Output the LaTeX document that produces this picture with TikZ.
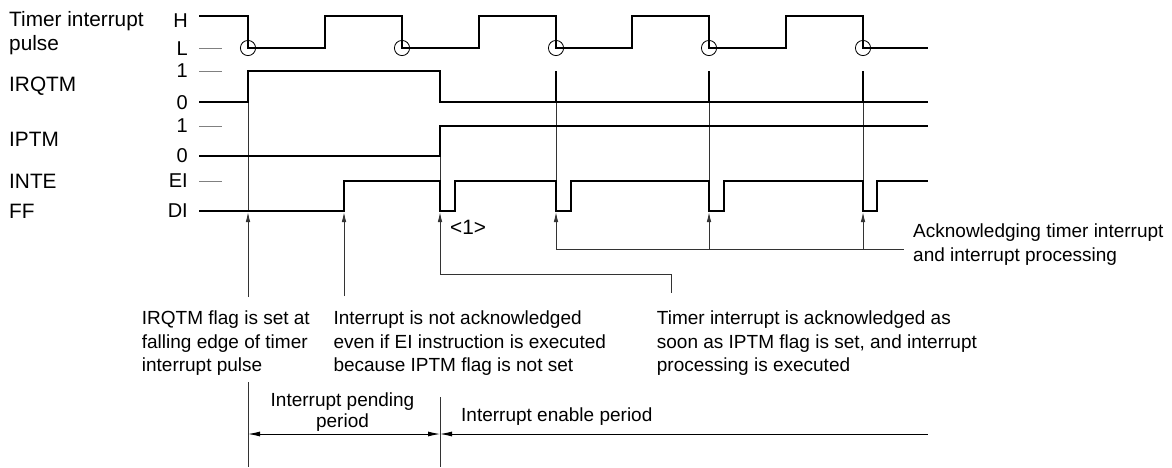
\documentclass[tikz,border=0pt]{standalone}
\usepackage{fontspec}
\setmainfont{Liberation Sans}
\usetikzlibrary{arrows.meta}
\newcommand{\dgfont}{\fontsize{19}{23.7}\selectfont}
\newcommand{\dgfontb}{\fontsize{19}{20.7}\selectfont}
\newcommand{\dgfontn}{\fontsize{20.8}{24}\selectfont}
\newcommand{\dgfontl}{\fontsize{20}{24}\selectfont}
\newcommand{\mlines}[1]{\begin{tabular}[t]{@{}l@{}}#1\end{tabular}}
\newcommand{\clines}[1]{\begin{tabular}[t]{@{}c@{}}#1\end{tabular}}
\begin{document}
\begin{tikzpicture}[x=1pt,y=-1pt,
  sig/.style={line width=2.6pt, line join=miter, line cap=butt},
  levtick/.style={line width=0.9pt, black!50},
  thinln/.style={line width=0.9pt, black!80},
  uparrow/.style={thinln, -{Latex[length=10pt,width=4.5pt]}},
  dimln/.style={line width=0.9pt, black},
  lbl/.style={inner sep=0pt, font=\dgfont},
  sname/.style={inner sep=0pt, font=\dgfontn, anchor=base west},
  lvname/.style={inner sep=0pt, font=\dgfontl, anchor=east},
  edgecirc/.style={line width=0.8pt, black}]
\useasboundingbox (0,0) rectangle (1172,467);

% ---------- signal names ----------
\node[sname] (ntimer) at (9,26.7) {\mlines{Timer interrupt\\pulse}};
\node[sname] (nirq)   at (9,91)   {IRQTM};
\node[sname] (niptm)  at (9,146.5) {IPTM};
\node[sname] (ninte)  at (9,188.2) {INTE};
\node[sname] (nff)    at (9,218)  {FF};

% ---------- level names ----------
\node[lvname] (lvH)  at (188,20.5) {H};
\node[lvname] (lvL)  at (188,49)   {L};
\node[lvname] (lv1a) at (188,70.8) {1};
\node[lvname] (lv0a) at (188,102.5) {0};
\node[lvname] (lv1b) at (188,126)  {1};
\node[lvname] (lv0b) at (188,156)  {0};
\node[lvname] (lvEI) at (188,181)  {EI};
\node[lvname] (lvDI) at (188,211)  {DI};

% level ticks
\draw[levtick] (199,48) -- (222,48);
\draw[levtick] (199,71) -- (222,71);
\draw[levtick] (199,126) -- (222,126);
\draw[levtick] (199,181) -- (222,181);

% ---------- thin guide lines (drawn under signals) ----------
\draw[thinln] (248,102) -- (248,212);
\draw[thinln] (440,156) -- (440,181);
\draw[thinln] (556,102) -- (556,181);
\draw[thinln] (709,102) -- (709,181);
\draw[thinln] (863,102) -- (863,181);

% ---------- waveforms ----------
\draw[sig] (199,16) -- (248,16) -- (248,48) -- (325,48) -- (325,16) -- (402,16)
  -- (402,48) -- (479,48) -- (479,16) -- (556,16) -- (556,48) -- (632,48)
  -- (632,16) -- (709,16) -- (709,48) -- (786,48) -- (786,16) -- (863,16)
  -- (863,48) -- (928,48);
\foreach \fx in {248,402,556,709,863}
  \draw[edgecirc] (\fx,48) circle[radius=7.6];

\draw[sig] (199,102) -- (248,102) -- (248,71) -- (440,71) -- (440,102) -- (928,102);
\draw[sig] (556,71) -- (556,102);
\draw[sig] (709,71) -- (709,102);
\draw[sig] (863,71) -- (863,102);

\draw[sig] (199,156) -- (440,156) -- (440,126) -- (928,126);

\draw[sig] (199,211) -- (344,211) -- (344,181) -- (440,181) -- (440,211) -- (455,211)
  -- (455,181) -- (556,181) -- (556,211) -- (571,211) -- (571,181) -- (709,181)
  -- (709,211) -- (724,211) -- (724,181) -- (863,181) -- (863,211) -- (877,211)
  -- (877,181) -- (928,181);

% ---------- annotation texts ----------
\node[inner sep=0pt, font=\dgfontn, anchor=west] (one) at (450,227) {<1>};
\node[lbl, anchor=base west] (tack) at (913,237.3)
  {\mlines{Acknowledging timer interrupt\\and interrupt processing}};
\node[lbl, anchor=base west] (tirq) at (141.7,324.3)
  {\mlines{IRQTM flag is set at\\falling edge of timer\\interrupt pulse}};
\node[lbl, anchor=base west] (tnot) at (333.3,324.3)
  {\mlines{Interrupt is not acknowledged\\even if EI instruction is executed\\because IPTM flag is not set}};
\node[lbl, anchor=base west] (tsoon) at (656.7,324.3)
  {\mlines{Timer interrupt is acknowledged as\\soon as IPTM flag is set, and interrupt\\processing is executed}};
\node[inner sep=0pt, font=\dgfontb, anchor=base] (tpend) at (342.5,406.7)
  {\clines{Interrupt pending\\period}};
\node[lbl, anchor=base west] (tenab) at (461,421.5) {Interrupt enable period};

% ---------- pointer arrows ----------
\coordinate (a1) at (248,212);
\coordinate (a1f) at (248,297);
\coordinate (a2) at (344,212);
\coordinate (a2f) at (344,296);
\coordinate (a3) at (440,212);
\coordinate (b3) at (440,274);
\coordinate (b3r) at (671,274);
\coordinate (b3f) at (671,293);
\coordinate (a4) at (556,212);
\coordinate (a5) at (709,212);
\coordinate (a6) at (863,212);
\coordinate (b4) at (556,249);
\coordinate (b5) at (709,249);
\coordinate (b6) at (863,249);
\coordinate (b6r) at (904,249);

\draw[uparrow] (a1f) -- (a1);
\draw[uparrow] (a2f) -- (a2);
\draw[uparrow] (b3) -- (a3);
\draw[thinln] (b3) -- (b3r) -- (b3f);
\draw[uparrow] (b4) -- (a4);
\draw[uparrow] (b5) -- (a5);
\draw[uparrow] (b6) -- (a6);
\draw[thinln] (b4) -- (b6r);

% ---------- periods ----------
\coordinate (p0t) at (248,382);
\coordinate (p0b) at (248,467);
\coordinate (p1t) at (440,397);
\coordinate (p1b) at (440,467);
\coordinate (pl) at (248,434);
\coordinate (pm) at (440,434);
\coordinate (pr) at (928,434);
\draw[thinln] (p0t) -- (p0b);
\draw[thinln] (p1t) -- (p1b);
\draw[dimln, {Latex[length=12pt,width=5pt]}-{Latex[length=12pt,width=5pt]}] (pl) -- (pm);
\draw[dimln, {Latex[length=12pt,width=5pt]}-] (pm) -- (pr);
\end{tikzpicture}
\end{document}
